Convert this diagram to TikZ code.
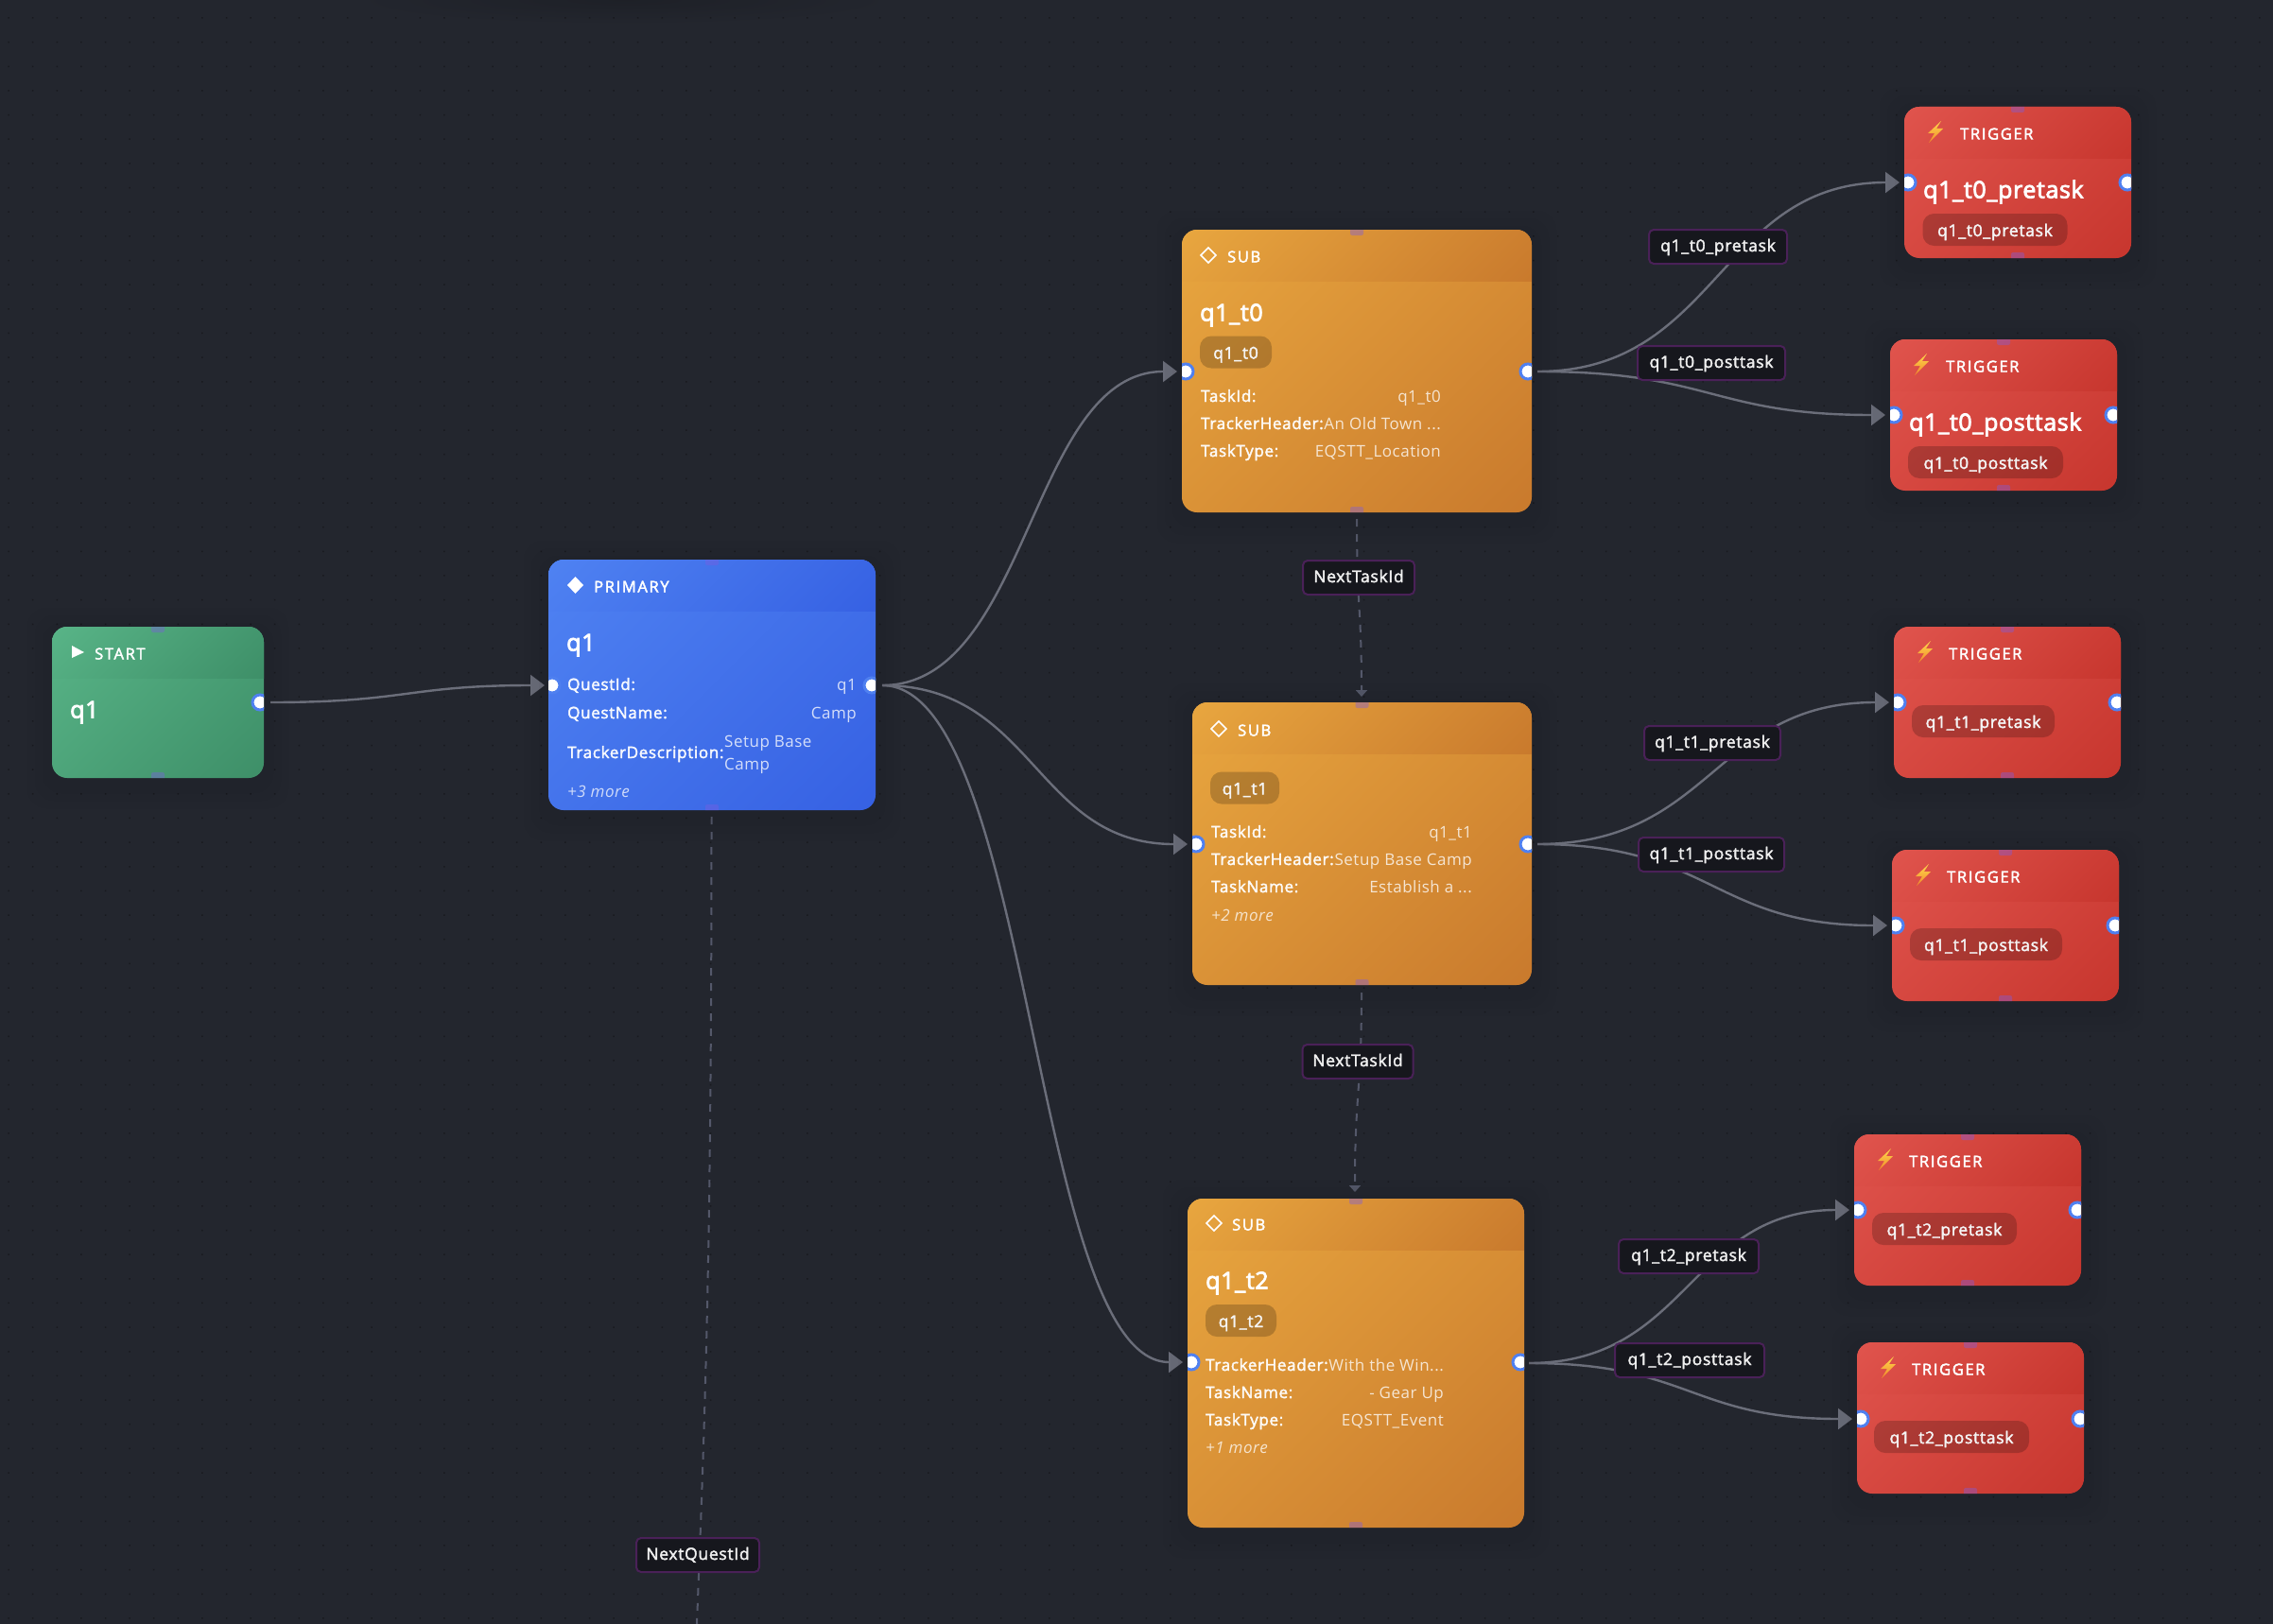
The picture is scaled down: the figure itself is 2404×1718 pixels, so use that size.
\documentclass[tikz,border=0pt]{standalone}
\usepackage{fontspec}
\setmainfont{Open Sans}[LetterSpace=3]
\newfontfamily\semi{Open Sans}[LetterSpace=4,FakeBold=2.2]
\newfontfamily\semiwide{Open Sans}[LetterSpace=10,FakeBold=2.6]
\newfontfamily\semititle{Open Sans}[LetterSpace=2.5,FakeBold=3.2]
\usetikzlibrary{arrows.meta,calc}
\definecolor{bgc}{HTML}{23262E}
\definecolor{dotc}{HTML}{191A1F}
\definecolor{edgec}{HTML}{6B6E7A}
\definecolor{dashc}{HTML}{54586A}
\definecolor{lblfill}{HTML}{16171D}
\definecolor{lbldraw}{HTML}{4A2158}
\definecolor{ringc}{HTML}{4F80F0}
\definecolor{markc}{HTML}{7C5CE0}
\definecolor{gA}{HTML}{58B487}\definecolor{gB}{HTML}{3E8F68}
\definecolor{bA}{HTML}{4F82F2}\definecolor{bB}{HTML}{3661E3}
\definecolor{oA}{HTML}{E8A63F}\definecolor{oB}{HTML}{C97A2D}
\definecolor{rA}{HTML}{E0544D}\definecolor{rB}{HTML}{C7362E}
\definecolor{boltA}{HTML}{FFD84D}\definecolor{boltB}{HTML}{F08A2A}
\pgfdeclareverticalshading{cardg}{100bp}{color(0bp)=(gB); color(15bp)=(gB); color(85bp)=(gA); color(100bp)=(gA)}
\pgfdeclareverticalshading{cardb}{100bp}{color(0bp)=(bB); color(15bp)=(bB); color(85bp)=(bA); color(100bp)=(bA)}
\pgfdeclareverticalshading{cardo}{100bp}{color(0bp)=(oB); color(15bp)=(oB); color(85bp)=(oA); color(100bp)=(oA)}
\pgfdeclareverticalshading{cardr}{100bp}{color(0bp)=(rB); color(15bp)=(rB); color(85bp)=(rA); color(100bp)=(rA)}
\tikzset{
  x=1pt,y=-1pt,
  cardbox/.style={rectangle,rounded corners=16pt,inner sep=0pt,outer sep=0pt},
  handlefill/.style={fill=white,draw=ringc,line width=3pt},
  marker/.style={fill=markc,fill opacity=.4,rounded corners=2pt},
  flow/.style={draw=edgec,line width=2.4pt,-{Triangle[length=15pt,width=22pt]}},
  dashflow/.style={draw=dashc,line width=2pt,dash pattern=on 8pt off 8pt,-{Triangle[length=7pt,width=12pt]}},
  dashplain/.style={draw=dashc,line width=2pt,dash pattern=on 8pt off 8pt},
  edgelabel/.style={fill=lblfill,draw=lbldraw,line width=2pt,rounded corners=5pt,text=white!94!black,
    inner sep=0pt,font=\fontsize{17.5}{20}\semi,text height=23pt,text depth=13pt,align=center},
  pill/.style={fill=black,fill opacity=.2,text opacity=1,text=white!96!black,rounded corners=12pt,inner sep=0pt,
    font=\fontsize{17.5}{20}\semi,text height=24pt,text depth=10pt,align=center},
  headtxt/.style={inner sep=0pt,anchor=base west,text=white,yshift=-.5pt,font=\fontsize{16.5}{20}\semiwide},
  titletxt/.style={inner sep=0pt,anchor=base west,text=white,yshift=-.5pt,font=\fontsize{25}{30}\semititle},
  keytxt/.style={inner sep=0pt,anchor=base west,text=white,text opacity=.95,yshift=-1pt,font=\fontsize{17}{20}\semi},
  valtxt/.style={inner sep=0pt,anchor=base east,text=white,text opacity=.78,yshift=-1pt,font=\fontsize{17}{20}\selectfont},
  moretxt/.style={inner sep=0pt,anchor=base west,text=white,text opacity=.75,yshift=-1pt,font=\fontsize{17}{20}\selectfont\itshape},
}
% name x0 y0 x1 y1 shading handleY
\newcommand{\Card}[7]{%
  \pgfmathsetmacro{\cw}{#4-#2}\pgfmathsetmacro{\ch}{#5-#3}%
  \pgfmathsetmacro{\ccx}{(#2+#4)/2}\pgfmathsetmacro{\ccy}{(#3+#5)/2}%
  \foreach \gr in {26,18,10}{\fill[black,opacity=.02,rounded corners=20pt] (#2-\gr,#3-\gr+6) rectangle (#4+\gr,#5+\gr+6);}
  \node[cardbox,minimum width=\cw pt,minimum height=\ch pt,shade,shading=#6,shading angle=45] (#1) at (\ccx,\ccy) {};
  \begin{scope}
    \clip[rounded corners=16pt] (#2,#3) rectangle (#4,#5);
    \shade[shading=#6,shading angle=45] (#2,#3) rectangle (#4,#3+54);
    \fill[marker] (\ccx-7,#3-3) rectangle (\ccx+7,#3+6);
    \fill[marker] (\ccx-7,#5-6) rectangle (\ccx+7,#5+3);
    \ifnum#7>0
      \path[handlefill] (#2+4,#7) circle (8);
      \path[handlefill] (#4-4,#7) circle (8);
    \else
      \path[handlefill] (#4-4,743) circle (8);
    \fi
  \end{scope}
}
\newcommand{\Flow}[2]{%
  \coordinate (fm) at ($(#1)!.5!(#2)$);
  \draw[flow] (#1) .. controls (fm |- #1) and (fm |- #2) .. (#2);
}
% name x y
\newcommand{\Bolt}[3]{%
  \shade[top color=boltA,bottom color=boltB] (#2+6,#3-11) -- (#2-8,#3+2) -- (#2-1,#3+2) -- (#2-7,#3+12) -- (#2+8,#3-3) -- (#2+1,#3-3) -- cycle;
}
\begin{document}
\begin{tikzpicture}
\path[use as bounding box,fill=bgc] (0,0) rectangle (2404,1718);
\begin{scope}
\clip (0,0) rectangle (2404,1718);
\shade[inner color=black!15!bgc,outer color=bgc,draw=none] (660,0) ellipse (290 and 26);
\fill[dotc] \foreach \i in {0,...,93}{\foreach \j in {0,...,66}{
   ({9.1+25.6*\i-.75},{19+25.65*\j-.75}) rectangle ++(1.5,1.5)}};

% connector end points
\coordinate (start-out) at (286,743);
\coordinate (q1-in) at (576,725);
\coordinate (q1-out) at (933,725);
\coordinate (t0-in) at (1245,393);
\coordinate (t1-in) at (1256,893);
\coordinate (t2-in) at (1251,1441);
\coordinate (t0-out) at (1626,393);
\coordinate (t1-out) at (1626,893);
\coordinate (t2-out) at (1617,1442);
\coordinate (t0pre-in) at (2009,193);
\coordinate (t0post-in) at (1994,439);
\coordinate (t1pre-in) at (1998,743);
\coordinate (t1post-in) at (1996,979);
\coordinate (t2pre-in) at (1956,1280);
\coordinate (t2post-in) at (1959,1501);
\coordinate (q1-down) at (752.5,864);
\coordinate (q1-c1) at (752.5,1320);
\coordinate (q1-c2) at (746,1490);
\coordinate (next-quest) at (737,1718);
\coordinate (t0-down) at (1435,549);
\coordinate (t1-top) at (1440,737);
\coordinate (t1-down) at (1440,1050);
\coordinate (t2-top) at (1433,1261);

\Flow{start-out}{q1-in}
\Flow{q1-out}{t0-in}
\Flow{q1-out}{t1-in}
\Flow{q1-out}{t2-in}
\Flow{t0-out}{t0pre-in}
\Flow{t0-out}{t0post-in}
\Flow{t1-out}{t1pre-in}
\Flow{t1-out}{t1post-in}
\Flow{t2-out}{t2pre-in}
\Flow{t2-out}{t2post-in}
\draw[dashplain] (q1-down) .. controls (q1-c1) and (q1-c2) .. (next-quest);
\coordinate (fm) at ($(t0-down)!.5!(t1-top)$);
\draw[dashflow] (t0-down) .. controls (t0-down |- fm) and (t1-top |- fm) .. (t1-top);
\coordinate (fm) at ($(t1-down)!.5!(t2-top)$);
\draw[dashflow] (t1-down) .. controls (t1-down |- fm) and (t2-top |- fm) .. (t2-top);

% edge labels
\node[edgelabel,minimum width=146pt] (lb-t0pre) at (1817,261) {q1\_t0\_pretask};
\node[edgelabel,minimum width=156pt] (lb-t0post) at (1810,384) {q1\_t0\_posttask};
\node[edgelabel,minimum width=144pt] (lb-t1pre) at (1811,786) {q1\_t1\_pretask};
\node[edgelabel,minimum width=154pt] (lb-t1post) at (1810,904) {q1\_t1\_posttask};
\node[edgelabel,minimum width=148pt] (lb-t2pre) at (1786,1329) {q1\_t2\_pretask};
\node[edgelabel,minimum width=158pt] (lb-t2post) at (1787,1439) {q1\_t2\_posttask};
\node[edgelabel,minimum width=130pt] (lb-nq) at (738,1645) {NextQuestId};
\node[edgelabel,minimum width=118pt] (lb-nt0) at (1437,611) {NextTaskId};
\node[edgelabel,minimum width=117pt] (lb-nt1) at (1436,1123) {NextTaskId};

% cards
\Card{start}{55}{663}{279}{823}{cardg}{0}
\Card{q1}{580}{592}{926}{857}{cardb}{725}
\Card{t0}{1250}{243}{1620}{542}{cardo}{393}
\Card{t1}{1261}{743}{1620}{1042}{cardo}{893}
\Card{t2}{1256}{1268}{1612}{1616}{cardo}{1441}
\Card{t0pre}{2014}{113}{2254}{273}{cardr}{193}
\Card{t0post}{1999}{359}{2239}{519}{cardr}{439}
\Card{t1pre}{2003}{663}{2243}{823}{cardr}{743}
\Card{t1post}{2001}{899}{2241}{1059}{cardr}{979}
\Card{t2pre}{1961}{1200}{2201}{1360}{cardr}{1280}
\Card{t2post}{1964}{1420}{2204}{1580}{cardr}{1501}

% start card
\fill[white] (76,683) -- (89,690) -- (76,696) -- cycle;
\node[headtxt] (start-h) at (100,697) {START};
\node[titletxt] (start-t) at (74,759) {q1};

% primary card
\fill[white] (608.5,610) -- (617,619) -- (608.5,628) -- (600,619) -- cycle;
\node[headtxt] (q1-h) at (628,626) {PRIMARY};
\node[titletxt] (q1-t) at (599,688) {q1};
\node[keytxt] (q1-k1) at (600,729) {QuestId:};
\node[valtxt] (q1-v1) at (906,729) {q1};
\node[keytxt] (q1-k2) at (600,759) {QuestName:};
\node[valtxt] (q1-v2) at (906,759) {Camp};
\node[keytxt] (q1-k3) at (600,801) {TrackerDescription:};
\node[valtxt,anchor=base west] (q1-v3) at (766,789) {Setup Base};
\node[valtxt,anchor=base west] (q1-v3b) at (766,813) {Camp};
\node[moretxt] (q1-m) at (600,842) {+3 more};

% sub t0
\draw[white,line width=1.6pt] (1278,262) -- (1286,270) -- (1278,278) -- (1270,270) -- cycle;
\node[headtxt] (t0-h) at (1298,277) {SUB};
\node[titletxt] (t0-t) at (1269,339) {q1\_t0};
\node[pill,minimum width=76pt] (t0-p) at (1307,372.5) {q1\_t0};
\node[keytxt] (t0-k1) at (1270,424) {TaskId:};
\node[valtxt] (t0-v1) at (1524,424) {q1\_t0};
\node[keytxt] (t0-k2) at (1270,453) {TrackerHeader:};
\node[valtxt] (t0-v2) at (1524,453) {An Old Town ...};
\node[keytxt] (t0-k3) at (1270,482) {TaskType:};
\node[valtxt] (t0-v3) at (1524,482) {EQSTT\_Location};

% sub t1
\draw[white,line width=1.6pt] (1289,763) -- (1297,771) -- (1289,779) -- (1281,771) -- cycle;
\node[headtxt] (t1-h) at (1309,778) {SUB};
\node[pill,minimum width=73pt] (t1-p) at (1316.5,833.5) {q1\_t1};
\node[keytxt] (t1-k1) at (1281,885) {TaskId:};
\node[valtxt] (t1-v1) at (1557,885) {q1\_t1};
\node[keytxt] (t1-k2) at (1281,914) {TrackerHeader:};
\node[valtxt] (t1-v2) at (1557,914) {Setup Base Camp};
\node[keytxt] (t1-k3) at (1281,943) {TaskName:};
\node[valtxt] (t1-v3) at (1557,943) {Establish a ...};
\node[moretxt] (t1-m) at (1281,973) {+2 more};

% sub t2
\draw[white,line width=1.6pt] (1284,1286) -- (1292,1294) -- (1284,1302) -- (1276,1294) -- cycle;
\node[headtxt] (t2-h) at (1303,1301) {SUB};
\node[titletxt] (t2-t) at (1275,1363) {q1\_t2};
\node[pill,minimum width=75pt] (t2-p) at (1312.5,1397) {q1\_t2};
\node[keytxt] (t2-k1) at (1275,1449) {TrackerHeader:};
\node[valtxt] (t2-v1) at (1527,1449) {With the Win...};
\node[keytxt] (t2-k2) at (1275,1478) {TaskName:};
\node[valtxt] (t2-v2) at (1527,1478) {- Gear Up};
\node[keytxt] (t2-k3) at (1275,1507) {TaskType:};
\node[valtxt] (t2-v3) at (1527,1507) {EQSTT\_Event};
\node[moretxt] (t2-m) at (1275,1536) {+1 more};

% triggers
\Bolt{a}{2047}{139}
\node[headtxt] (t0pre-h) at (2073,147) {TRIGGER};
\node[titletxt] (t0pre-t) at (2034,209) {q1\_t0\_pretask};
\node[pill,minimum width=153pt] (t0pre-p) at (2110,243) {q1\_t0\_pretask};
\Bolt{b}{2032}{385}
\node[headtxt] (t0post-h) at (2058,393) {TRIGGER};
\node[titletxt] (t0post-t) at (2019,455) {q1\_t0\_posttask};
\node[pill,minimum width=164pt] (t0post-p) at (2100,489) {q1\_t0\_posttask};
\Bolt{c}{2036}{689}
\node[headtxt] (t1pre-h) at (2061,697) {TRIGGER};
\node[pill,minimum width=151pt] (t1pre-p) at (2097.5,763) {q1\_t1\_pretask};
\Bolt{d}{2034}{925}
\node[headtxt] (t1post-h) at (2059,933) {TRIGGER};
\node[pill,minimum width=161pt] (t1post-p) at (2100.5,999) {q1\_t1\_posttask};
\Bolt{e}{1994}{1226}
\node[headtxt] (t2pre-h) at (2019,1234) {TRIGGER};
\node[pill,minimum width=153pt] (t2pre-p) at (2056.5,1300) {q1\_t2\_pretask};
\Bolt{f}{1997}{1446}
\node[headtxt] (t2post-h) at (2022,1454) {TRIGGER};
\node[pill,minimum width=164pt] (t2post-p) at (2064,1520) {q1\_t2\_posttask};
\end{scope}
\end{tikzpicture}
\end{document}
